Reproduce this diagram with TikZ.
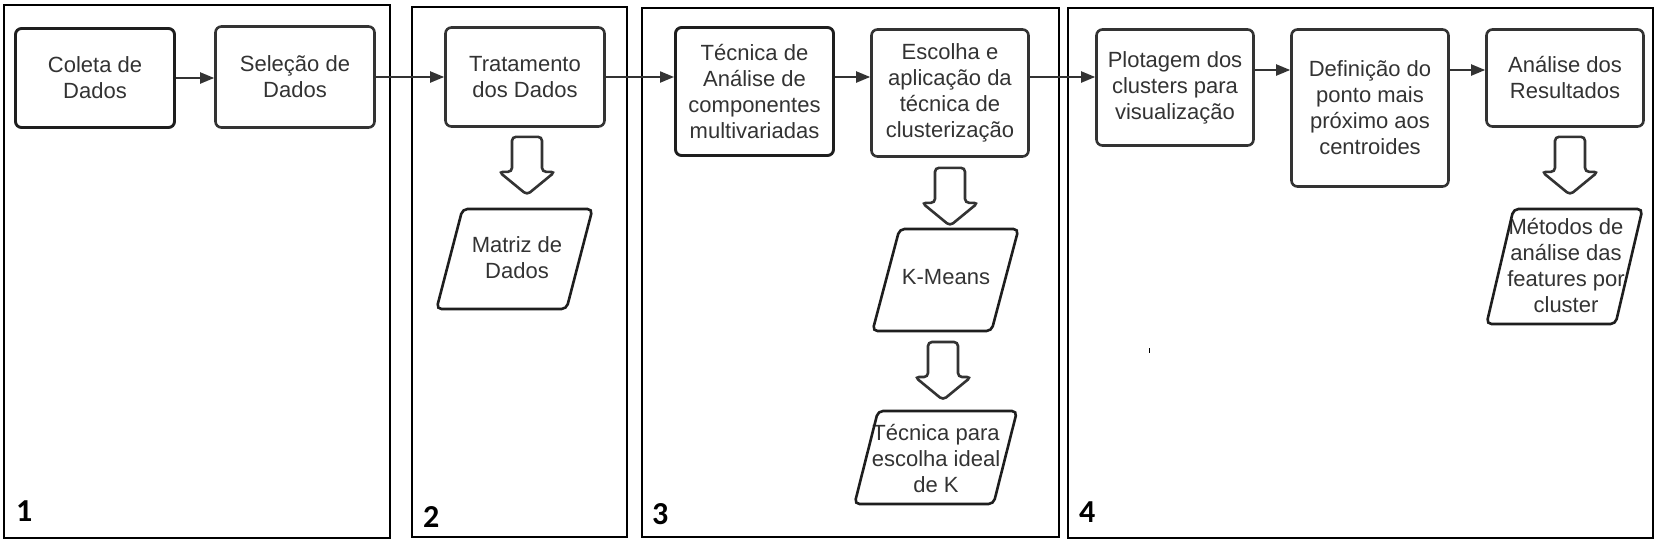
\documentclass[tikz,border=0pt]{standalone}
\usepackage{fontspec}
\setmainfont{Liberation Sans}
\newfontfamily\numfont{Carlito}
\usetikzlibrary{arrows.meta,calc}
\definecolor{ink}{HTML}{333333}
\definecolor{inkdark}{HTML}{1E1E1E}
\tikzset{
  pics/blockarrow/.style={code={
    \draw[barrow] (-15,0) -- (-15,35) -- (-28,35) -- (0,58) -- (28,35) -- (15,35) -- (15,0) -- cycle;
  }},
  pics/paragram/.style n args={3}{code={
    \draw[para] ({-#1/2+#2/2},{-#3/2}) -- ({#1/2+#2/2},{-#3/2}) -- ({#1/2-#2/2},{#3/2}) -- ({-#1/2-#2/2},{#3/2}) -- cycle;
  }}
}
\begin{document}
\begin{tikzpicture}[x=1pt,y=-1pt,
  panel/.style={draw=black,line width=1.3pt},
  box/.style={draw=ink,line width=2.6pt,rounded corners=6pt,align=center,text=ink,
    font=\fontsize{22}{26}\selectfont,inner sep=2pt},
  darkbox/.style={box,draw=inkdark,line width=2.9pt},
  para/.style={draw=inkdark,line width=2.6pt,rounded corners=5pt},
  ptext/.style={align=center,text=ink,font=\fontsize{22}{26}\selectfont,inner sep=1pt},
  arr/.style={draw=ink,line width=2pt,-{Triangle[length=14pt,width=11pt]}},
  barrow/.style={draw=ink,fill=white,line width=2.6pt,rounded corners=4pt},
  num/.style={font=\numfont\bfseries\fontsize{32}{32}\selectfont,text=black,anchor=base west,inner sep=0pt}
]
\useasboundingbox (0,0) rectangle (1663,547);
\fill[white] (0,0) rectangle (1663,547);

% panels
\draw[panel] (4,5) rectangle (390,538);
\draw[panel] (412,7) rectangle (627,537);
\draw[panel] (642,8) rectangle (1059,537);
\draw[panel] (1068,8) rectangle (1653,538);

\node[num] (n1) at (16,521) {1};
\node[num] (n2) at (423,527) {2};
\node[num] (n3) at (652,524) {3};
\node[num] (n4) at (1079,522) {4};

% boxes
\node[darkbox,minimum width=159pt,minimum height=99pt] (coleta) at (95,78) {Coleta de\\Dados};
\node[box,minimum width=159pt,minimum height=101pt] (selecao) at (295,77) {Seleção de\\Dados};
\node[box,minimum width=159pt,minimum height=99pt] (trat) at (525,77) {Tratamento\\dos Dados};
\node[darkbox,minimum width=158pt,minimum height=128pt] (tecnica) at (754.5,91.5) {Técnica de\\Análise de\\componentes\\multivariadas};
\node[box,minimum width=157pt,minimum height=127pt] (escolha) at (950,93) {Escolha e\\aplicação da\\técnica de\\clusterização};
\node[box,minimum width=157pt,minimum height=116pt] (plot) at (1175,87.5) {Plotagem dos\\clusters para\\visualização};
\node[box,minimum width=157pt,minimum height=157pt] (def) at (1370,108) {Definição do\\ponto mais\\próximo aos\\centroides};
\node[box,minimum width=157pt,minimum height=97pt] (analise) at (1565,78) {Análise dos\\Resultados};

% parallelograms
\node[ptext] (matriz) at (517,258) {Matriz de\\Dados};
\pic at (514.5,259) {paragram={130}{26}{100}};
\node[ptext] (kmeans) at (946,277) {K-Means};
\pic at (945.5,280) {paragram={119}{27}{102}};
\node[ptext] (kideal) at (936,458) {Técnica para\\escolha ideal\\de K};
\pic at (935.75,457.5) {paragram={139}{23.5}{93}};
\node[ptext] (metodos) at (1566,266) {Métodos de\\análise das\\features por\\cluster};
\pic at (1564.5,266.5) {paragram={129}{27}{115}};

% block arrows
\pic at ($(trat.south)+(2,9)$) {blockarrow};
\pic at ($(escolha.south)+(0,10)$) {blockarrow};
\pic at (943,342) {blockarrow};
\pic at ($(analise.south)+(5,9)$) {blockarrow};

% connectors
\draw[arr] (coleta.east) -- (coleta.east -| selecao.west);
\draw[arr] (selecao.east) -- (selecao.east -| trat.west);
\draw[arr] (trat.east) -- (trat.east -| tecnica.west);
\draw[arr] (tecnica.east |- trat.east) -- (escolha.west |- trat.east);
\draw[arr] (escolha.east |- trat.east) -- (plot.west |- trat.east);
\coordinate (p1) at ($(plot.east)+(0,-17.5)$);
\draw[arr] (p1) -- (p1 -| def.west);
\draw[arr] (def.east |- p1) -- (analise.west |- p1);

% stray tick
\draw[line width=0.8pt] (1149,348) -- (1149,353);
\end{tikzpicture}
\end{document}
